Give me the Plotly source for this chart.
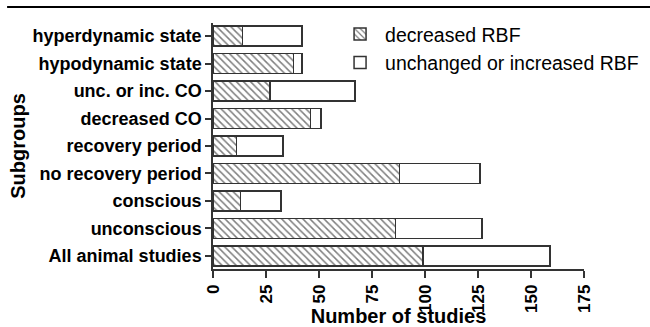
import plotly.graph_objects as go

categories = ["hyperdynamic state", "hypodynamic state", "unc. or inc. CO", "decreased CO",
              "recovery period", "no recovery period", "conscious", "unconscious",
              "All animal studies"]
decreased = [14, 38, 27, 46, 11, 88, 13, 86, 99]
total = [42, 42, 67, 51, 33, 126, 32, 127, 159]
unchanged = [t - d for t, d in zip(total, decreased)]
x_ticks = [0, 25, 50, 75, 100, 125, 150, 175]

FONT = "Liberation Sans, Arial, sans-serif"
LINE = "#333333"

fig = go.Figure()
fig.add_trace(go.Bar(
    y=categories, x=decreased, orientation="h", name="decreased RBF",
    marker=dict(color="white", line=dict(color=LINE, width=1.5),
                pattern=dict(shape="\\", fgcolor="black", bgcolor="white", size=5, solidity=0.3)),
))
fig.add_trace(go.Bar(
    y=categories, x=unchanged, orientation="h", name="unchanged or increased RBF",
    marker=dict(color="white", line=dict(color=LINE, width=1.5)),
))

fig.update_layout(
    width=650, height=327,
    margin=dict(l=213, r=66, t=23, b=58, autoexpand=False),
    barmode="stack", bargap=0.27,
    plot_bgcolor="white", paper_bgcolor="white",
    font=dict(family=FONT, color="black"),
    showlegend=True,
    legend=dict(x=0.329, y=1.033, xanchor="left", yanchor="top", traceorder="normal",
                font=dict(family=FONT, size=19.5, color="black"), bgcolor="rgba(0,0,0,0)",
                itemwidth=40, tracegroupgap=0),
    xaxis=dict(range=[0, 175], tickvals=x_ticks, ticktext=[str(v) for v in x_ticks],
               tickangle=-90, ticks="outside", ticklen=7, tickwidth=1.5, tickcolor=LINE,
               showline=True, linecolor=LINE, linewidth=1.5, showgrid=False, zeroline=False,
               tickfont=dict(family=FONT, size=17, weight="bold", color="black"),
               title=dict(text="Number of studies", standoff=6,
                          font=dict(family=FONT, size=20, weight="bold", color="black")),
               automargin=False),
    yaxis=dict(categoryorder="array", categoryarray=categories, range=[8.48, -0.48],
               ticks="outside", ticklen=6, tickwidth=1.5, tickcolor=LINE,
               showline=True, linecolor=LINE, linewidth=1.5, showgrid=False, zeroline=False,
               tickfont=dict(family=FONT, size=18, weight="bold", color="black"),
               title=dict(text="Subgroups", standoff=2,
                          font=dict(family=FONT, size=20, weight="bold", color="black")),
               automargin=False),
    shapes=[dict(type="line", xref="paper", yref="paper", x0=-0.555, x1=1.18,
                 y0=1.065, y1=1.065, line=dict(color="black", width=2))],
)

fig.write_html("out.html",
               config={"displayModeBar": False, "responsive": False},
               post_script="document.body.style.margin='0';document.body.style.overflow='hidden';")
